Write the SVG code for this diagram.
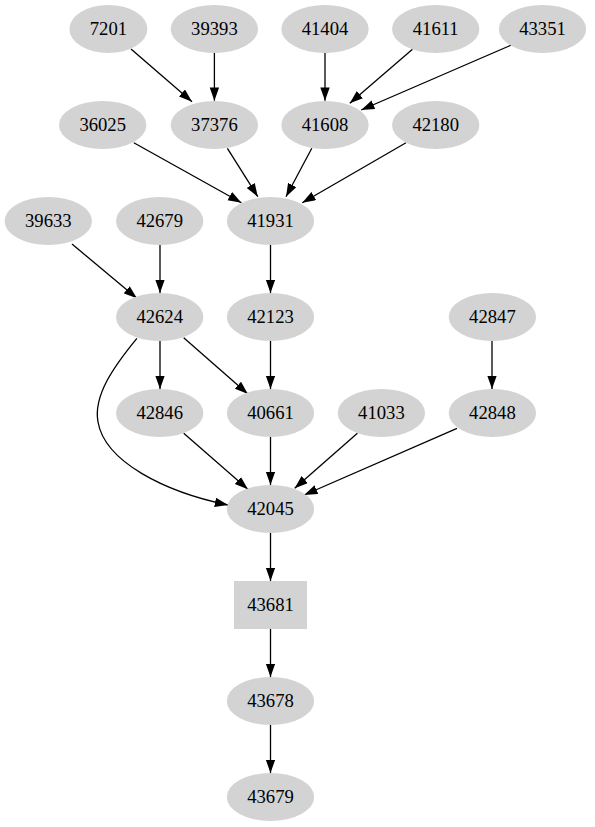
<svg xmlns="http://www.w3.org/2000/svg" width="595" height="827" viewBox="0 0 595 827">
<style>
.n ellipse, .n rect { fill: #d3d3d3; stroke: none; }
.n text { font-family: "Liberation Serif", "Times New Roman", serif; font-size: 18.67px; text-anchor: middle; fill: #000; }
#edges path { fill: none; stroke: #000; stroke-width: 1.3; marker-end: url(#arr); }
</style>
<defs>
<marker id="arr" markerUnits="userSpaceOnUse" markerWidth="14" markerHeight="10" refX="13.3" refY="4.7" orient="auto">
<path d="M0,0 L13.3,4.7 L0,9.4 z" fill="#000"/>
</marker>
</defs>
<rect width="595" height="827" fill="#fff"/>
<g id="edges">
<path d="M131,49 L192,101.7"/>
<path d="M214.4,53 L214.4,100.7"/>
<path d="M325,53 L325,100.7"/>
<path d="M412.5,49.3 L349.8,103.3"/>
<path d="M511.4,45 L361.2,110"/>
<path d="M133.8,142.7 L241.4,202.7"/>
<path d="M227.4,148.3 L257.8,196.7"/>
<path d="M311.8,148.3 L286,196.7"/>
<path d="M406,142.7 L302.3,202.7"/>
<path d="M72,244 L136.9,298.3"/>
<path d="M160,245 L160,293"/>
<path d="M270.5,245 L270.5,293"/>
<path d="M160,341 L160,389"/>
<path d="M183.7,337.7 L247.9,394"/>
<path d="M270.5,341 L270.5,389"/>
<path d="M492,341 L492,389"/>
<path d="M136.9,338.3 C115,365 93,395 98,422 C105,462 165,492 228.1,505"/>
<path d="M183.7,433.3 L247.9,489.3"/>
<path d="M270.5,437 L270.5,485"/>
<path d="M357.4,433.3 L294.7,488.3"/>
<path d="M457,428.3 L304.2,495"/>
<path d="M270.5,533 L270.5,581"/>
<path d="M270.5,629 L270.5,677"/>
<path d="M270.5,725 L270.5,773"/>
</g>
<g id="n7201" class="n"><ellipse cx="108.4" cy="29" rx="39" ry="24"/><text x="108.4" y="35">7201</text></g>
<g id="n39393" class="n"><ellipse cx="214.4" cy="29" rx="43.7" ry="24"/><text x="214.4" y="35">39393</text></g>
<g id="n41404" class="n"><ellipse cx="325" cy="29" rx="43.7" ry="24"/><text x="325" y="35">41404</text></g>
<g id="n41611" class="n"><ellipse cx="435.7" cy="29" rx="43.7" ry="24"/><text x="435.7" y="35">41611</text></g>
<g id="n43351" class="n"><ellipse cx="542.5" cy="29" rx="43.7" ry="24"/><text x="542.5" y="35">43351</text></g>
<g id="n36025" class="n"><ellipse cx="102.7" cy="125" rx="43.7" ry="24"/><text x="102.7" y="131">36025</text></g>
<g id="n37376" class="n"><ellipse cx="214.4" cy="125" rx="43.7" ry="24"/><text x="214.4" y="131">37376</text></g>
<g id="n41608" class="n"><ellipse cx="325" cy="125" rx="43.7" ry="24"/><text x="325" y="131">41608</text></g>
<g id="n42180" class="n"><ellipse cx="435.7" cy="125" rx="43.7" ry="24"/><text x="435.7" y="131">42180</text></g>
<g id="n39633" class="n"><ellipse cx="48.3" cy="221" rx="43.7" ry="24"/><text x="48.3" y="227">39633</text></g>
<g id="n42679" class="n"><ellipse cx="159.7" cy="221" rx="43.7" ry="24"/><text x="159.7" y="227">42679</text></g>
<g id="n41931" class="n"><ellipse cx="270.5" cy="221" rx="43.7" ry="24"/><text x="270.5" y="227">41931</text></g>
<g id="n42624" class="n"><ellipse cx="159.7" cy="317" rx="43.7" ry="24"/><text x="159.7" y="323">42624</text></g>
<g id="n42123" class="n"><ellipse cx="270.5" cy="317" rx="43.7" ry="24"/><text x="270.5" y="323">42123</text></g>
<g id="n42847" class="n"><ellipse cx="492.4" cy="317" rx="43.7" ry="24"/><text x="492.4" y="323">42847</text></g>
<g id="n42846" class="n"><ellipse cx="159.7" cy="413" rx="43.7" ry="24"/><text x="159.7" y="419">42846</text></g>
<g id="n40661" class="n"><ellipse cx="270.5" cy="413" rx="43.7" ry="24"/><text x="270.5" y="419">40661</text></g>
<g id="n41033" class="n"><ellipse cx="381.4" cy="413" rx="43.7" ry="24"/><text x="381.4" y="419">41033</text></g>
<g id="n42848" class="n"><ellipse cx="492.4" cy="413" rx="43.7" ry="24"/><text x="492.4" y="419">42848</text></g>
<g id="n42045" class="n"><ellipse cx="270.5" cy="509" rx="43.7" ry="24"/><text x="270.5" y="515">42045</text></g>
<g id="n43681" class="n"><rect x="234" y="581" width="73" height="48"/><text x="270.5" y="611">43681</text></g>
<g id="n43678" class="n"><ellipse cx="270.5" cy="701" rx="43.7" ry="24"/><text x="270.5" y="707">43678</text></g>
<g id="n43679" class="n"><ellipse cx="270.5" cy="797" rx="43.7" ry="24"/><text x="270.5" y="803">43679</text></g>
</svg>
